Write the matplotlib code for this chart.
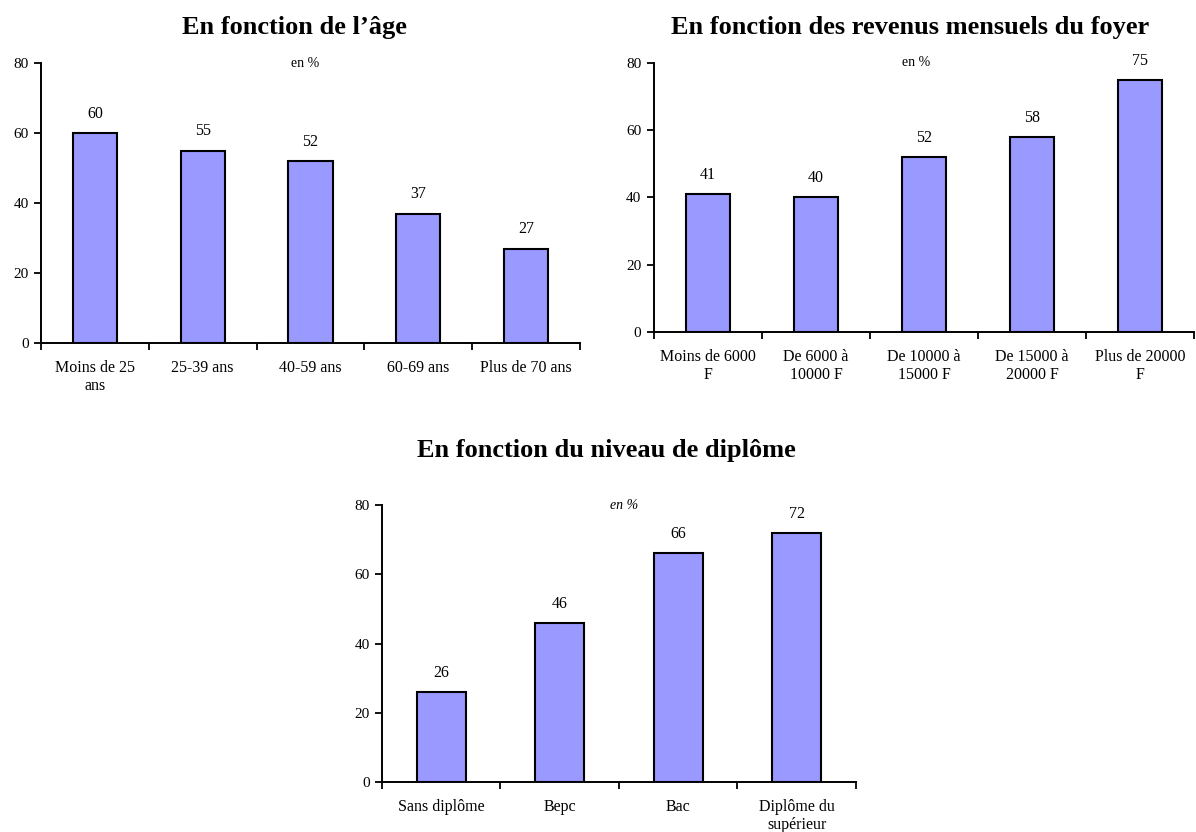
import numpy as np
import matplotlib
matplotlib.use('Agg')
import matplotlib.pyplot as plt

plt.rcParams['font.family'] = ['Liberation Serif', 'DejaVu Serif']

age_labels = ['Moins de 25\nans', '25-39 ans', '40-59 ans', '60-69 ans', 'Plus de 70 ans']
age_values = [60, 55, 52, 37, 27]

revenu_labels = ['Moins de 6000\nF', 'De 6000 à\n10000 F', 'De 10000 à\n15000 F',
                 'De 15000 à\n20000 F', 'Plus de 20000\nF']
revenu_values = [41, 40, 52, 58, 75]

diplome_labels = ['Sans diplôme', 'Bepc', 'Bac', 'Diplôme du\nsupérieur']
diplome_values = [26, 46, 66, 72]

bar_color = '#9999FF'


def draw(ax, labels, values, unit_x, unit_italic=False):
    n = len(values)
    x = np.arange(n)
    ax.bar(x, values, width=0.41, color=bar_color, edgecolor='black', linewidth=1.5)
    for xi, v in zip(x, values):
        ax.annotate(str(v), (xi, v), xytext=(0, 8), textcoords='offset points',
                    ha='center', va='bottom', fontsize=11.5)
    ax.set_xlim(-0.5, n - 0.5)
    ax.set_ylim(0, 80)
    ax.set_yticks([0, 20, 40, 60, 80])
    ax.set_xticks(np.arange(n + 1) - 0.5)
    ax.set_xticklabels([])
    ax.set_xticks(x, minor=True)
    ax.set_xticklabels(labels, minor=True, fontsize=11.5, linespacing=1.2)
    ax.tick_params(axis='x', which='minor', length=0, pad=12)
    ax.tick_params(axis='x', which='major', length=5, width=1.3, direction='out')
    ax.tick_params(axis='y', length=5, width=1.3, labelsize=11, pad=4)
    for s in ['top', 'right']:
        ax.spines[s].set_visible(False)
    for s in ['left', 'bottom']:
        ax.spines[s].set_linewidth(1.4)
    ax.text(unit_x, 1.0, 'en %', transform=ax.transAxes, ha='center', va='center',
            fontsize=10, style='italic' if unit_italic else 'normal')


fig = plt.figure(figsize=(11.96, 8.32), dpi=100)

ax1 = fig.add_axes([0.0343, 0.5877, 0.4507, 0.3365])
draw(ax1, age_labels, age_values, 0.49)
fig.text(0.2458, 0.9675, 'En fonction de l\u2019âge', ha='center', va='center',
         fontsize=19, fontweight='bold')

ax2 = fig.add_axes([0.5468, 0.6010, 0.4515, 0.3233])
draw(ax2, revenu_labels, revenu_values, 0.485)
fig.text(0.7609, 0.9675, 'En fonction des revenus mensuels du foyer', ha='center', va='center',
         fontsize=19, fontweight='bold')

ax3 = fig.add_axes([0.3194, 0.0601, 0.3963, 0.3329])
draw(ax3, diplome_labels, diplome_values, 0.51, unit_italic=True)
fig.text(0.5067, 0.459, 'En fonction du niveau de diplôme', ha='center', va='center',
         fontsize=19, fontweight='bold')

fig.savefig('out.png', dpi=100)
